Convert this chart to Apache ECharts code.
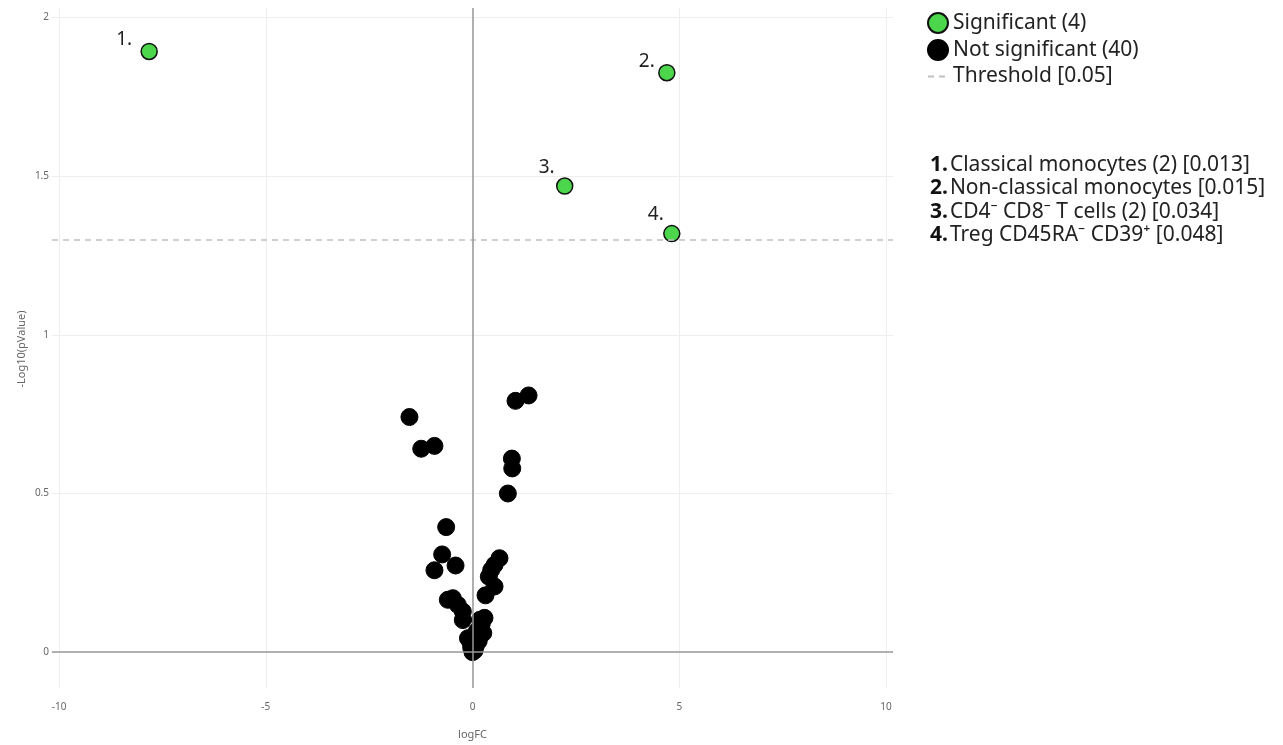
<!DOCTYPE html>
<html>
<head>
<meta charset="utf-8">
<script src="https://cdn.jsdelivr.net/npm/echarts@6/dist/echarts.min.js"></script>
<style>
html,body{margin:0;padding:0;background:#fff;}
#chart{width:1283px;height:745px;}
</style>
</head>
<body>
<div id="chart"></div>
<script>
// ---- data ----
const sigX = [-7.82, 4.70, 2.23, 4.82];
const sigY = [1.893, 1.826, 1.469, 1.319];
const sigNames = ['Classical monocytes (2)', 'Non-classical monocytes', 'CD4\u207B CD8\u207B T cells (2)', 'Treg CD45RA\u207B CD39\u207A'];
const sigP = ['0.013', '0.015', '0.034', '0.048'];
const nsX = [1.356, 1.04, -1.525, -1.24, -0.92, 0.952, 0.961, 0.855,
  -0.637, -0.734, -0.41, -0.92,
  0.653, 0.533, 0.453, 0.395, 0.533, 0.315,
  -0.597, -0.476, -0.355, -0.234, -0.234,
  0.29, 0.21, 0.17, 0.13, -0.11, 0.01, -0.03, 0.0, 0.05, 0.15, 0.22, 0.26, 0.08, 0.18, 0.10, 0.02, -0.05];
const nsY = [0.809, 0.792, 0.741, 0.641, 0.650, 0.610, 0.579, 0.500,
  0.394, 0.308, 0.273, 0.258,
  0.296, 0.275, 0.259, 0.238, 0.207, 0.179,
  0.165, 0.170, 0.149, 0.128, 0.101,
  0.108, 0.097, 0.075, 0.054, 0.044, 0.028, 0.013, 0.0, 0.005, 0.035, 0.087, 0.060, 0.020, 0.102, 0.065, 0.045, 0.030];
const threshold = 1.301;
const thresholdLabel = '0.05';
const xTicks = [-10, -5, 0, 5, 10];
const yTicks = [0, 0.5, 1, 1.5, 2];
const xRange = [-10.17, 10.17];
const yRange = [-0.113, 2.03];
const yTitle = '-Log10(pValue)';

// ---- styles ----
const labelOffsets = [[-25, 11], [-20, 12], [-18, 5], [-16, 4]];
const FONT = 'Noto Sans';

const sigName = 'Significant (' + sigX.length + ')';
const nsName = 'Not significant (' + nsX.length + ')';
const thName = 'Threshold [' + thresholdLabel + ']';

const sigData = sigX.map((x, i) => ({
  value: [x, sigY[i]],
  label: { show: true, formatter: (i + 1) + '.', position: 'top', offset: labelOffsets[i] }
}));
const nsData = nsX.map((x, i) => [x, nsY[i]]);

const listText = sigNames.map((n, i) => '{b|' + (i + 1) + '.}{t|' + n + ' [' + sigP[i] + ']}').join('\n');

const chart = echarts.init(document.getElementById('chart'));
chart.setOption({
  animation: false,
  textStyle: { fontFamily: FONT },
  grid: { left: 52, right: 390, top: 8, bottom: 55 },
  legend: {
    orient: 'vertical', left: 922, top: 7, itemGap: 5,
    itemWidth: 20, itemHeight: 20,
    textStyle: { fontSize: 21, color: '#222', fontFamily: FONT },
    data: [sigName, nsName, { name: thName, itemStyle: { opacity: 0 } }],
    selectedMode: false
  },
  xAxis: {
    type: 'value', min: xRange[0], max: xRange[1],
    name: 'logFC', nameLocation: 'middle', nameGap: 41,
    nameTextStyle: { fontSize: 11, color: '#666', fontFamily: FONT },
    axisLine: { show: false },
    axisTick: { show: false, customValues: xTicks },
    axisLabel: { customValues: xTicks, fontSize: 10, color: '#666', margin: 14 },
    splitLine: { show: true, lineStyle: { color: '#eeeeee', width: 1 } }
  },
  yAxis: {
    type: 'value', min: yRange[0], max: yRange[1],
    axisLine: { show: false },
    axisTick: { show: false, customValues: yTicks },
    axisLabel: { customValues: yTicks, fontSize: 10, color: '#666', margin: 3 },
    splitLine: { show: true, lineStyle: { color: '#eeeeee', width: 1 } }
  },
  graphic: [{
    type: 'text', left: 930, top: 153,
    style: {
      text: listText,
      fontFamily: FONT,
      fill: '#222',
      lineHeight: 23.5,
      rich: {
        b: { fontSize: 21, fontWeight: 'bold', fill: '#111', padding: [0, 2, 0, 0], fontFamily: FONT, lineHeight: 23.5 },
        t: { fontSize: 21, fill: '#222', fontFamily: FONT, lineHeight: 23.5 }
      }
    }
  }, {
    type: 'text', x: 22, y: 349, rotation: Math.PI / 2,
    style: { text: yTitle, fontFamily: FONT, fontSize: 11, fill: '#666', align: 'center', verticalAlign: 'middle' }
  }],
  series: [
    {
      name: thName, type: 'line', data: [], symbol: 'none',
      lineStyle: { color: '#c0c0c0', type: [6, 5], width: 1.5 },
      itemStyle: { color: '#c0c0c0' },
      markLine: {
        silent: true, symbol: 'none', label: { show: false },
        lineStyle: { color: '#c0c0c0', type: [6, 5], width: 1.5 },
        data: [{ yAxis: threshold }]
      }
    },
    {
      name: 'zero', type: 'line', data: [], symbol: 'none', z: 1,
      markLine: {
        silent: true, symbol: 'none', label: { show: false },
        lineStyle: { color: '#999', type: 'solid', width: 1.5 },
        data: [{ xAxis: 0 }, { yAxis: 0 }]
      }
    },
    {
      name: nsName, type: 'scatter', symbol: 'circle', symbolSize: 17, z: 3,
      itemStyle: { color: '#000', borderColor: '#000', borderWidth: 1, opacity: 1 },
      data: nsData
    },
    {
      name: sigName, type: 'scatter', symbol: 'circle', symbolSize: 16, z: 4,
      itemStyle: { color: '#4bd64b', borderColor: '#111', borderWidth: 1.5, opacity: 1 },
      label: { fontSize: 19, color: '#222', fontFamily: FONT },
      data: sigData
    }
  ]
});
</script>
</body>
</html>
